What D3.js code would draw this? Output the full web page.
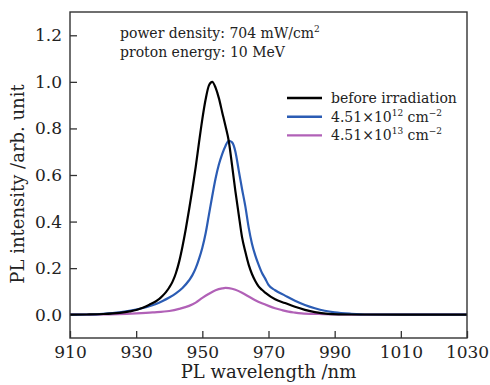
<!doctype html>
<html lang="en">
<head>
  <meta charset="UTF-8" />
  <script src="https://cdn.jsdelivr.net/npm/d3@7"></script>
  <style>
    body { margin: 0; background: white; }
    text { font-family: "DejaVu Serif", serif; fill: #222; }
    .tick text { font-size: 17px; }
    .curve { fill: none; stroke-width: 2.2; stroke-linejoin: round; }
  </style>
  <title>PL spectra</title>
</head>
<body>
  <script>
    // wavelengths (nm) and PL intensities
    var wlBefore = [910, 915, 920, 925, 928, 930, 932, 934, 936, 937, 938, 939, 940, 941, 942, 943, 944, 945, 946, 947, 948, 949, 950, 951, 952, 953, 954, 955, 956, 957, 958, 959, 960, 961, 962, 963, 964, 965, 966, 967, 968, 969, 972, 975, 978, 981, 984, 988, 995, 1010, 1030];
    var plBefore = [0, 0.001, 0.003, 0.008, 0.014, 0.02, 0.03, 0.043, 0.058, 0.068, 0.081, 0.097, 0.117, 0.142, 0.178, 0.228, 0.293, 0.368, 0.452, 0.54, 0.635, 0.74, 0.84, 0.925, 0.985, 1.0, 0.975, 0.93, 0.87, 0.81, 0.745, 0.64, 0.53, 0.43, 0.333, 0.27, 0.215, 0.175, 0.145, 0.122, 0.107, 0.095, 0.066, 0.05, 0.034, 0.021, 0.011, 0.004, 0.001, 0, 0];

    var wl12 = [910, 915, 920, 925, 930, 933, 936, 938, 940, 942, 944, 946, 947, 948, 949, 950, 951, 952, 953, 954, 955, 956, 957, 958, 959, 960, 961, 962, 963, 964, 965, 966, 967, 968, 969, 970, 972, 975, 978, 981, 984, 987, 990, 995, 1000, 1030];
    var pl12 = [0, 0.001, 0.004, 0.01, 0.022, 0.032, 0.046, 0.059, 0.074, 0.092, 0.115, 0.148, 0.17, 0.2, 0.24, 0.288, 0.35, 0.43, 0.51, 0.585, 0.645, 0.69, 0.725, 0.747, 0.74, 0.7, 0.62, 0.54, 0.465, 0.375, 0.305, 0.255, 0.215, 0.18, 0.155, 0.128, 0.105, 0.082, 0.06, 0.042, 0.028, 0.017, 0.01, 0.004, 0.001, 0];

    var wl13 = [910, 920, 930, 935, 940, 943, 946, 948, 950, 952, 954, 956, 957, 958, 960, 962, 964, 966, 968, 970, 972, 974, 976, 978, 980, 985, 990, 1000, 1030];
    var pl13 = [0, 0.001, 0.006, 0.01, 0.016, 0.025, 0.038, 0.052, 0.072, 0.09, 0.105, 0.113, 0.115, 0.114, 0.107, 0.094, 0.078, 0.062, 0.049, 0.038, 0.028, 0.02, 0.013, 0.009, 0.006, 0.003, 0.001, 0, 0];

    var xTicks = [910, 930, 950, 970, 990, 1010, 1030];
    var yTicks = [0, 0.2, 0.4, 0.6, 0.8, 1.0, 1.2];

    var series = [
      { wl: wlBefore, pl: plBefore, color: "#000000", label: "before irradiation" },
      { wl: wl12, pl: pl12, color: "#2b5cb4", label: ["4.51\u00d710", "12", " cm", "\u22122"] },
      { wl: wl13, pl: pl13, color: "#b161b7", label: ["4.51\u00d710", "13", " cm", "\u22122"] }
    ];

    var W = 490, H = 385;
    var m = { l: 70, r: 467, t: 12, b: 338 };

    var svg = d3.select("body").append("svg")
      .attr("width", W).attr("height", H);

    var x = d3.scaleLinear().domain([910, 1030]).range([m.l, m.r]);
    var y = d3.scaleLinear().domain([-0.1, 1.3]).range([m.b, m.t]);

    svg.append("g")
      .attr("transform", "translate(0," + m.b + ")")
      .call(d3.axisBottom(x).tickValues(xTicks).tickSizeInner(-7).tickSizeOuter(0).tickPadding(8).tickFormat(d3.format("d")));
    svg.append("g")
      .attr("transform", "translate(" + m.l + ",0)")
      .call(d3.axisLeft(y).tickValues(yTicks).tickSizeInner(-7).tickSizeOuter(0).tickPadding(8).tickFormat(d3.format(".1f")));
    svg.selectAll(".domain").remove();
    svg.selectAll(".tick line").attr("stroke", "#333").attr("stroke-width", 1.3);
    svg.selectAll(".tick text").attr("fill", "#222");

    var line = d3.line()
      .x(function (d) { return x(d[0]); })
      .y(function (d) { return y(d[1]); })
      .curve(d3.curveMonotoneX);

    svg.append("g").selectAll("path")
      .data(series.slice().reverse())
      .enter().append("path")
      .attr("class", "curve")
      .attr("stroke", function (d) { return d.color; })
      .attr("d", function (d) {
        return line(d.wl.map(function (w, i) { return [w, d.pl[i]]; }));
      });

    // frame
    svg.append("rect")
      .attr("x", m.l).attr("y", m.t)
      .attr("width", m.r - m.l).attr("height", m.b - m.t)
      .attr("fill", "none").attr("stroke", "#333").attr("stroke-width", 1.4);

    // axis titles
    svg.append("text")
      .attr("x", (m.l + m.r) / 2).attr("y", 378)
      .attr("text-anchor", "middle").style("font-size", "18px")
      .text("PL wavelength /nm");
    svg.append("text")
      .attr("transform", "translate(24," + ((m.t + m.b) / 2 + 9) + ") rotate(-90)")
      .attr("text-anchor", "middle").style("font-size", "18px")
      .text("PL intensity /arb. unit");

    // annotation
    var note = svg.append("text").attr("x", 120).attr("y", 38).style("font-size", "14px");
    note.append("tspan").text("power density: 704 mW/cm");
    note.append("tspan").attr("dy", -6).style("font-size", "9px").text("2");
    svg.append("text").attr("x", 120).attr("y", 57).style("font-size", "14px")
      .text("proton energy: 10 MeV");

    // legend
    var legend = svg.append("g").selectAll("g")
      .data(series).enter().append("g")
      .attr("transform", function (d, i) { return "translate(287," + (98 + i * 18.7) + ")"; });
    legend.append("line")
      .attr("x1", 0).attr("x2", 35)
      .attr("stroke", function (d) { return d.color; })
      .attr("stroke-width", 2.4);
    legend.append("text")
      .attr("x", 44).attr("y", 5).style("font-size", "14px")
      .each(function (d) {
        var t = d3.select(this);
        if (typeof d.label === "string") { t.text(d.label); return; }
        t.append("tspan").text(d.label[0]);
        t.append("tspan").attr("dy", -6).style("font-size", "9px").text(d.label[1]);
        t.append("tspan").attr("dy", 6).text(d.label[2]);
        t.append("tspan").attr("dy", -6).style("font-size", "9px").text(d.label[3]);
      });
  </script>
</body>
</html>
